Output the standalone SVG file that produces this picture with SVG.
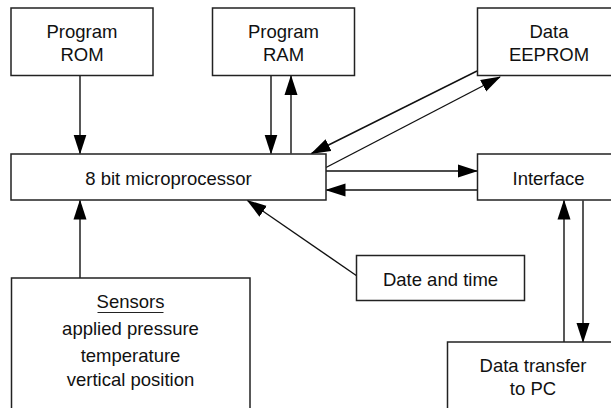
<svg xmlns="http://www.w3.org/2000/svg" width="611" height="408" viewBox="0 0 611 408">
<style>
.box{fill:#fff;stroke:#222;stroke-width:1.5}
.t{font-family:"Liberation Sans",Arial,sans-serif;font-size:18.5px;fill:#111;text-anchor:middle}
.c{stroke:#111;stroke-width:1.4;fill:none;marker-end:url(#ah)}
</style>
<defs>
<marker id="ah" markerUnits="userSpaceOnUse" markerWidth="20" markerHeight="14" refX="19" refY="6.5" orient="auto" viewBox="0 0 20 13">
<path d="M0,0 L20,6.5 L0,13 z" fill="#000"/>
</marker>
</defs>
<rect width="611" height="408" fill="#fff"/>
<g id="connectors">
<path class="c" d="M80,75.5 L80,153.5"/>
<path class="c" d="M271,75.5 L271,153.5"/>
<path class="c" d="M291,153.5 L291,76"/>
<path class="c" d="M477,71 L311.5,153.5"/>
<path class="c" d="M326,167.5 L500,77"/>
<path class="c" d="M326,171 L477,171"/>
<path class="c" d="M477.5,190 L326.5,190"/>
<path class="c" d="M357,276 L247.5,200.5"/>
<path class="c" d="M80,278 L80,200.5"/>
<path class="c" d="M583,200.5 L583,342"/>
<path class="c" d="M564,342 L564,200.5"/>
</g>
<g id="program-rom">
<rect class="box" x="11" y="8" width="142" height="67.5"/>
<text class="t" x="82" y="37.5">Program</text>
<text class="t" x="82" y="61">ROM</text>
</g>
<g id="program-ram">
<rect class="box" x="212.5" y="8" width="142" height="67.5"/>
<text class="t" x="283.5" y="37.5">Program</text>
<text class="t" x="283.5" y="61">RAM</text>
</g>
<g id="data-eeprom">
<rect class="box" x="477.5" y="8" width="142" height="67.5"/>
<text class="t" x="549" y="37.5">Data</text>
<text class="t" x="549" y="61">EEPROM</text>
</g>
<g id="microprocessor">
<rect class="box" x="11" y="154" width="315" height="46"/>
<text class="t" x="168.5" y="185">8 bit microprocessor</text>
</g>
<g id="interface">
<rect class="box" x="477.5" y="154" width="142" height="46"/>
<text class="t" x="548.5" y="185">Interface</text>
</g>
<g id="date-and-time">
<rect class="box" x="356.5" y="255.5" width="168" height="45"/>
<text class="t" x="440.5" y="286">Date and time</text>
</g>
<g id="sensors">
<rect class="box" x="11.5" y="278" width="238.5" height="140"/>
<text class="t" x="130.5" y="308">Sensors</text>
<line x1="97.5" y1="312.5" x2="163.5" y2="312.5" stroke="#222" stroke-width="1.2"/>
<text class="t" x="130.5" y="335">applied pressure</text>
<text class="t" x="130.5" y="362">temperature</text>
<text class="t" x="130.5" y="386">vertical position</text>
</g>
<g id="data-transfer">
<rect class="box" x="447.5" y="342" width="172" height="80"/>
<text class="t" x="533" y="372">Data transfer</text>
<text class="t" x="533" y="394.5">to PC</text>
</g>
</svg>
